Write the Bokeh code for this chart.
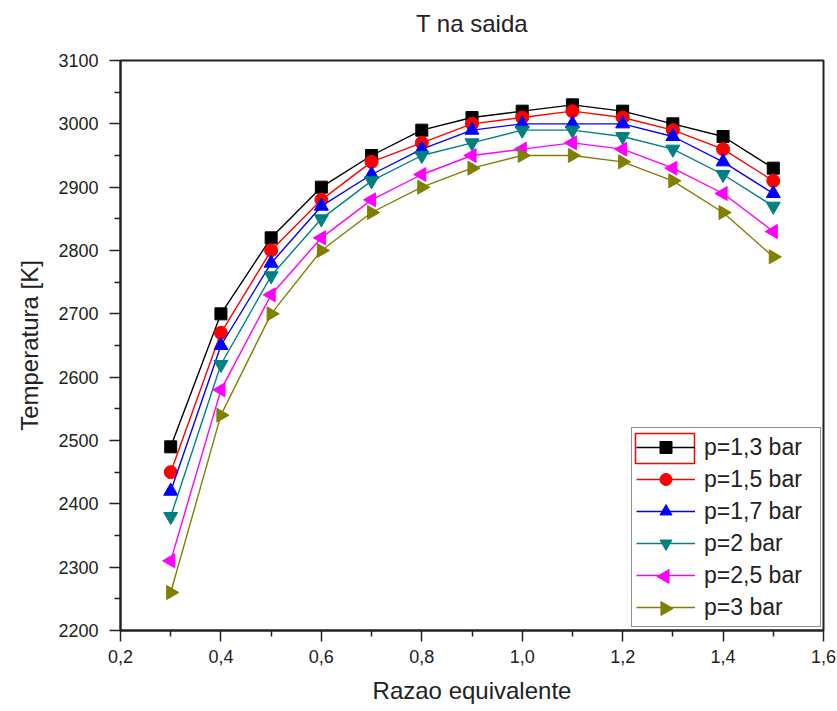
import math
from bokeh.plotting import figure
from bokeh.models import Range1d, FixedTicker, CustomJSTickFormatter, Title
from bokeh.embed import file_html
from bokeh.resources import INLINE

razao = [0.3, 0.4, 0.5, 0.6, 0.7, 0.8, 0.9, 1.0, 1.1, 1.2, 1.3, 1.4, 1.5]
t_p13 = [2490, 2700, 2820, 2900, 2950, 2990, 3010, 3020, 3030, 3020, 3000, 2980, 2930]
t_p15 = [2450, 2670, 2800, 2880, 2940, 2970, 3000, 3010, 3020, 3010, 2990, 2960, 2910]
t_p17 = [2420, 2650, 2780, 2870, 2920, 2960, 2990, 3000, 3000, 3000, 2980, 2940, 2890]
t_p20 = [2380, 2620, 2760, 2850, 2910, 2950, 2970, 2990, 2990, 2980, 2960, 2920, 2870]
t_p25 = [2310, 2580, 2730, 2820, 2880, 2920, 2950, 2960, 2970, 2960, 2930, 2890, 2830]
t_p30 = [2260, 2540, 2700, 2800, 2860, 2900, 2930, 2950, 2950, 2940, 2910, 2860, 2790]
labels = ["p=1,3 bar", "p=1,5 bar", "p=1,7 bar", "p=2 bar", "p=2,5 bar", "p=3 bar"]
x_ticks = [0.2, 0.4, 0.6, 0.8, 1.0, 1.2, 1.4, 1.6]
x_minor = [0.3, 0.5, 0.7, 0.9, 1.1, 1.3, 1.5]
y_ticks = [2200, 2300, 2400, 2500, 2600, 2700, 2800, 2900, 3000, 3100]
y_minor = [2250, 2350, 2450, 2550, 2650, 2750, 2850, 2950, 3050]
X0, X1, Y0, Y1 = 0.2, 1.6, 2200, 3100

series = [t_p13, t_p15, t_p17, t_p20, t_p25, t_p30]
colors = ["#000000", "#FF0000", "#0000FF", "#008080", "#FF00FF", "#808000"]
markers = [("square", 0.0, 12), ("circle", 0.0, 13), ("triangle", 0.0, 14),
           ("inverted_triangle", 0.0, 14), ("triangle", math.pi / 2, 14),
           ("triangle", -math.pi / 2, 14)]

FONT = "Liberation Sans"
W, H = 837, 711
BL, BR, BT, BB = 120, 14, 60, 81
FW, FH = W - BL - BR, H - BT - BB

def fx(px):
    return X0 + px * (X1 - X0) / FW

def fy(py):
    return Y0 + py * (Y1 - Y0) / FH

p = figure(width=W, height=H, output_backend="svg", toolbar_location=None,
           x_range=Range1d(X0, X1), y_range=Range1d(Y0, Y1),
           min_border_left=BL, min_border_right=BR, min_border_top=BT,
           min_border_bottom=BB)

# spacer between frame and title, then the title itself
p.add_layout(Title(text=" ", text_font_size="2px", standoff=20), "above")
p.add_layout(Title(text="T na saida", align="center", text_font=FONT,
                   text_font_size="24px", text_font_style="normal",
                   text_color="#222222", standoff=0), "above")

p.xgrid.visible = False
p.ygrid.visible = False
p.outline_line_color = "#222222"
p.outline_line_width = 2

p.xaxis.ticker = FixedTicker(ticks=x_ticks, minor_ticks=x_minor)
p.yaxis.ticker = FixedTicker(ticks=y_ticks, minor_ticks=y_minor)
p.xaxis.formatter = CustomJSTickFormatter(code="return tick.toFixed(1).replace('.', ',');")

for ax in (p.xaxis[0], p.yaxis[0]):
    ax.axis_line_color = "#222222"
    ax.axis_line_width = 2
    ax.major_tick_line_color = "#222222"
    ax.major_tick_line_width = 1.5
    ax.minor_tick_line_color = "#222222"
    ax.minor_tick_line_width = 1.5
    ax.major_tick_out = 11
    ax.major_tick_in = 0
    ax.minor_tick_out = 6
    ax.minor_tick_in = 0
    ax.major_label_text_font = FONT
    ax.major_label_text_font_size = "18px"
    ax.major_label_text_color = "#222222"
    ax.axis_label_text_font = FONT
    ax.axis_label_text_font_size = "24px"
    ax.axis_label_text_font_style = "normal"
    ax.axis_label_text_color = "#222222"

p.xaxis.axis_label = "Razao equivalente"
p.yaxis.axis_label = "Temperatura [K]"
p.xaxis.major_label_standoff = 8
p.yaxis.major_label_standoff = 11
p.xaxis.axis_label_standoff = 11
p.yaxis.axis_label_standoff = 12

for i, (ys, col, (mk, ang, sz), lab) in enumerate(zip(series, colors, markers, labels)):
    p.line(razao, ys, line_color=col, line_width=1.4, legend_label=lab)
    if ang == 0.0:
        p.scatter(razao, ys, marker=mk, size=sz, fill_color=col, line_color=col,
                  legend_label=lab)
    else:
        p.scatter(razao, ys, marker=mk, angle=ang, size=sz, fill_color=col,
                  line_color=col)

# legend geometry (screen pixels relative to frame bottom-left)
LX, LY = 511, 3
PAD, GW, GH, SP = 4, 59, 30, 2
NROW = len(labels)
LH = 2 * PAD + NROW * GH + (NROW - 1) * SP

lg = p.legend[0]
lg.location = (LX, LY)
lg.border_line_color = "#222222"
lg.border_line_width = 1.5
lg.background_fill_alpha = 0
lg.label_text_font = FONT
lg.label_text_font_size = "23px"
lg.label_text_color = "#222222"
lg.label_width = 112
lg.glyph_width = GW
lg.glyph_height = GH
lg.label_height = GH
lg.spacing = SP
lg.padding = PAD
lg.label_standoff = 9

# rotated triangle markers for the legend (Bokeh legend ignores marker angle)
gx = LX + PAD + GW / 2

def row_y(i):
    return LY + LH - PAD - GH / 2 - i * (GH + SP)

for i in (4, 5):
    mk, ang, sz = markers[i]
    p.scatter([fx(gx)], [fy(row_y(i))], marker=mk, angle=ang, size=sz,
              fill_color=colors[i], line_color=colors[i])

# selection box around first legend glyph, as in the reference
p.rect([fx(gx)], [fy(row_y(0))], width=GW, height=GH, width_units="screen",
       height_units="screen", fill_alpha=0, line_color="#FF0000", line_width=1.5)

open("out.html", "w").write(file_html(p, INLINE))
